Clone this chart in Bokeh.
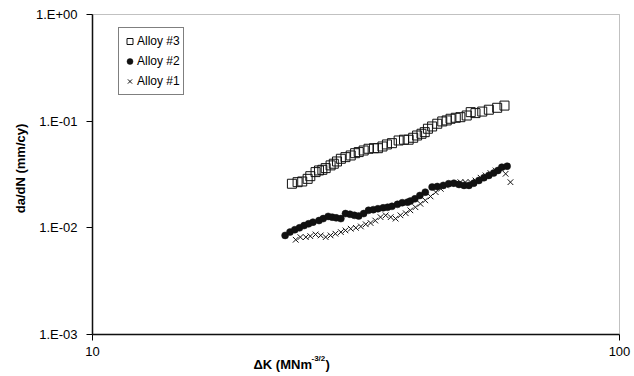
import math
from bokeh.plotting import figure
from bokeh.models import Range1d, FixedTicker, Legend, LegendItem, Label, BoxAnnotation
from bokeh.embed import file_html
from bokeh.resources import INLINE

# ---- data ----
k_alloy3 = [23.9, 24.5, 25.0, 25.6, 25.9, 26.5, 26.9, 27.3, 27.7, 28.3, 28.7, 29.1, 29.6, 30.2, 30.9,
            31.5, 32.0, 32.7, 33.4, 34.2, 34.8, 35.5, 36.2, 37.0, 38.1, 39.0, 39.8, 40.6, 41.3, 42.1,
            42.7, 43.3, 44.1, 45.1, 46.1, 47.0, 47.8, 48.9, 49.9, 51.3, 52.2, 53.3, 54.9, 56.5, 58.6, 60.5]
r_alloy3 = [0.0259, 0.0268, 0.0272, 0.0288, 0.0305, 0.0333, 0.0345, 0.0350, 0.0363, 0.0385, 0.0399, 0.0419,
            0.0444, 0.0460, 0.0477, 0.0501, 0.0513, 0.0531, 0.0551, 0.0558, 0.0558, 0.0579, 0.0605, 0.0622,
            0.0659, 0.0670, 0.0670, 0.0699, 0.0734, 0.0762, 0.0789, 0.0849, 0.0892, 0.0946, 0.0994, 0.1016,
            0.1053, 0.1076, 0.109, 0.113, 0.1215, 0.119, 0.123, 0.128, 0.1335, 0.140]

k_alloy2 = [23.2, 23.7, 24.2, 24.7, 25.2, 25.7, 26.2, 26.9, 27.4, 28.0, 28.5, 29.0, 29.6, 30.2, 30.8,
            31.4, 32.0, 32.7, 33.4, 34.1, 34.8, 35.6, 36.3, 37.0, 37.9, 38.7, 39.6, 40.1, 40.9, 41.8,
            42.8, 44.1, 45.1, 46.3, 47.4, 48.5, 49.6, 50.7, 51.8, 52.9, 54.1, 55.3, 56.5, 57.7, 58.8, 59.8, 61.2]
r_alloy2 = [0.00849, 0.00912, 0.00960, 0.0100, 0.0105, 0.0109, 0.0113, 0.0117, 0.0122, 0.0128, 0.0126,
            0.0124, 0.0122, 0.0136, 0.0134, 0.0131, 0.0129, 0.0136, 0.0146, 0.0148, 0.0151, 0.0154, 0.0156,
            0.0159, 0.0166, 0.0172, 0.0174, 0.0178, 0.0187, 0.0201, 0.0216, 0.0241, 0.0244, 0.0250, 0.0259,
            0.0262, 0.0255, 0.0250, 0.0250, 0.0262, 0.0278, 0.0295, 0.0310, 0.0326, 0.0345, 0.0370, 0.0378]

k_alloy1 = [24.3, 24.8, 25.4, 25.9, 26.5, 27.1, 27.7, 28.3, 28.9, 29.6, 30.2, 30.9, 31.6, 32.3, 33.0,
            33.7, 34.4, 35.2, 36.0, 36.8, 37.6, 38.4, 39.3, 40.1, 41.0, 41.9, 42.8, 43.8, 44.8, 45.8,
            46.8, 47.8, 48.9, 49.9, 51.0, 52.2, 53.3, 54.5, 55.7, 56.9, 58.2, 60.8, 62.1]
r_alloy1 = [0.00773, 0.00818, 0.00818, 0.00836, 0.00867, 0.00849, 0.00818, 0.00849, 0.00881, 0.00912,
            0.00946, 0.00981, 0.0100, 0.0103, 0.0108, 0.0111, 0.0117, 0.0126, 0.0131, 0.0126, 0.0122,
            0.0131, 0.0137, 0.0146, 0.0156, 0.0168, 0.0181, 0.0197, 0.0216, 0.0232, 0.0250, 0.0259,
            0.0262, 0.0268, 0.0268, 0.0268, 0.0278, 0.0295, 0.0310, 0.0326, 0.0345, 0.0321, 0.0268]

x_min, x_max = 10, 100
y_min, y_max = 0.001, 1.0
x_ticks = [10, 100]
x_tick_labels = ["10", "100"]
y_ticks = [0.001, 0.01, 0.1, 1.0]
y_tick_labels = ["1.E-03", "1.E-02", "1.E-01", "1.E+00"]

FONT = "Liberation Sans"
W, H = 634, 376
# plot-area placement in pixels (the whole canvas is the frame, so that all texts render)
PL, PR, PT, PB = 92, 619, 14, 334
px_dec_x = (PR - PL) / (math.log10(x_max) - math.log10(x_min))
px_dec_y = (PB - PT) / (math.log10(y_max) - math.log10(y_min))
xr = Range1d(10 ** (math.log10(x_min) - PL / px_dec_x), 10 ** (math.log10(x_max) + (W - PR) / px_dec_x))
yr = Range1d(10 ** (math.log10(y_min) - (H - PB) / px_dec_y), 10 ** (math.log10(y_max) + PT / px_dec_y))

p = figure(width=W, height=H, x_axis_type="log", y_axis_type="log",
           x_range=xr, y_range=yr, output_backend="svg", toolbar_location=None,
           min_border_left=0, min_border_right=0, min_border_top=0, min_border_bottom=0)
p.background_fill_color = "white"
p.border_fill_color = "white"
p.outline_line_color = None
p.grid.visible = False

# plot-area border (top / right)
p.add_layout(BoxAnnotation(left=x_min, right=x_max, bottom=y_min, top=y_max,
                           fill_alpha=0, line_color="#333333", line_width=1))

for ax in (p.xaxis[0], p.yaxis[0]):
    ax.axis_line_color = "black"
    ax.axis_line_width = 1.5
    ax.major_tick_line_color = "black"
    ax.major_tick_line_width = 1
    ax.major_tick_in = 0
    ax.major_tick_out = 6
    ax.minor_tick_line_color = None
    ax.major_label_text_font = FONT
    ax.major_label_text_font_size = "13px"
    ax.major_label_text_color = "black"

p.xaxis.fixed_location = y_min
p.xaxis.bounds = (x_min, x_max)
p.xaxis.ticker = FixedTicker(ticks=x_ticks)
p.xaxis.major_label_overrides = {t: s for t, s in zip(x_ticks, x_tick_labels)}
p.xaxis.major_label_standoff = 6

p.yaxis.fixed_location = x_min
p.yaxis.bounds = (y_min, y_max)
p.yaxis.ticker = FixedTicker(ticks=y_ticks)
p.yaxis.major_label_overrides = {t: s for t, s in zip(y_ticks, y_tick_labels)}
p.yaxis.major_label_standoff = 9

r3 = p.scatter(k_alloy3, r_alloy3, marker="square", size=9, fill_color=None,
               line_color="#111111", line_width=1)
r2 = p.scatter(k_alloy2, r_alloy2, marker="circle", size=7, fill_color="#111111",
               line_color="#111111", line_width=0.5)
r1 = p.scatter(k_alloy1, r_alloy1, marker="x", size=8, line_color="#111111", line_width=1)

legend = Legend(items=[LegendItem(label="Alloy #3", renderers=[r3]),
                       LegendItem(label="Alloy #2", renderers=[r2]),
                       LegendItem(label="Alloy #1", renderers=[r1])],
                location=(118, H - 95), orientation="vertical")
legend.border_line_color = "black"
legend.border_line_width = 1
legend.background_fill_color = "white"
legend.background_fill_alpha = 1
legend.padding = 3
legend.spacing = 0
legend.margin = 0
legend.glyph_width = 15
legend.glyph_height = 20
legend.label_height = 20
legend.label_standoff = 0
legend.label_text_font = FONT
legend.label_text_font_size = "12px"
legend.label_text_color = "black"
p.add_layout(legend, "center")

def title_label(x, y, text, size, angle=0.0, align="left"):
    return Label(x=x, y=y, x_units="screen", y_units="screen", text=text, angle=angle,
                 text_font=FONT, text_font_size=size, text_font_style="bold",
                 text_baseline="middle", text_align=align, text_color="black")

# y-axis title
p.add_layout(title_label(20, H - 168, "da/dN (mm/cy)", "13px", angle=math.pi / 2, align="center"))
# x-axis title with superscript
p.add_layout(title_label(253, H - 364, "ΔK (MNm", "13px"))
p.add_layout(title_label(311, H - 358, "-3/2", "8px"))
p.add_layout(title_label(325, H - 364, ")", "13px"))

open("out.html", "w").write(file_html(p, INLINE))
